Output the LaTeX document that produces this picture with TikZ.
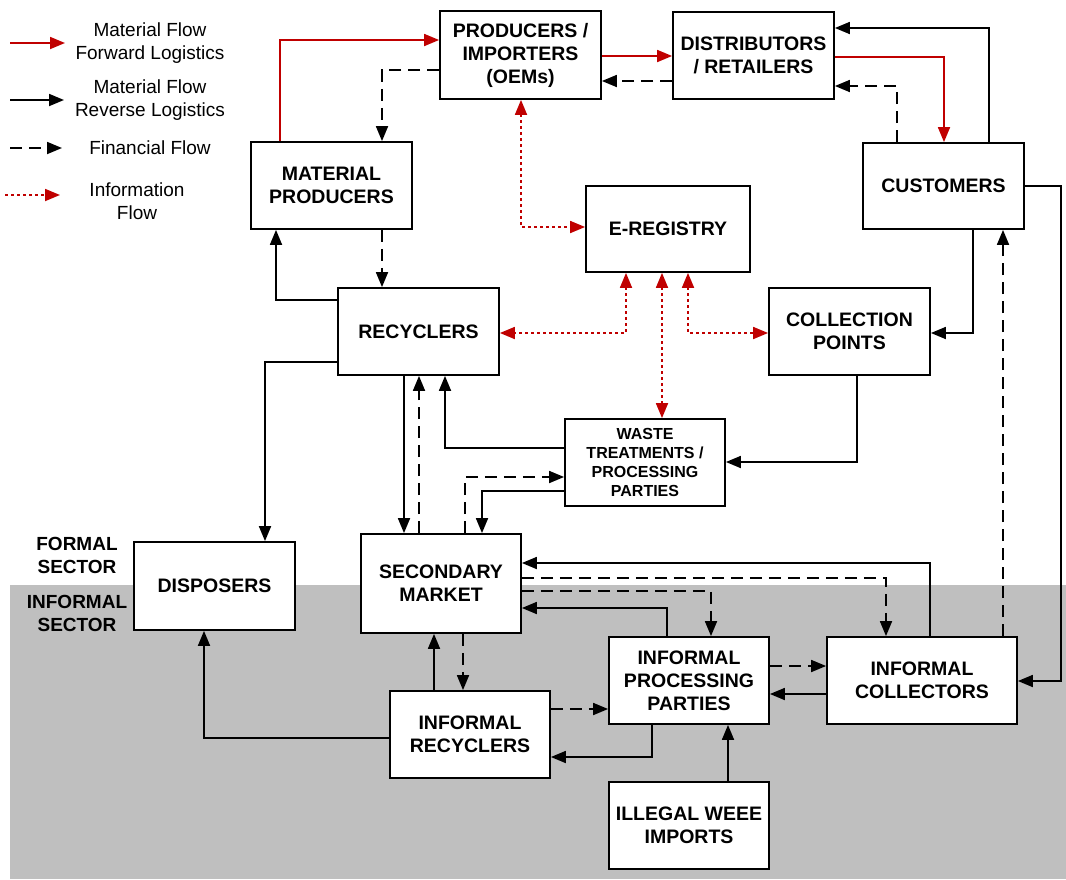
\documentclass[tikz,border=0pt]{standalone}
\usepackage{fontspec}
\setmainfont{Liberation Sans}
\usetikzlibrary{arrows.meta}
\definecolor{fred}{RGB}{192,0,0}
\definecolor{bggray}{RGB}{191,191,191}
\begin{document}
\begin{tikzpicture}[x=1pt,y=-1pt,
  tip/.tip={Triangle[length=15pt,width=12pt]},
  box/.style={draw, line width=1.8pt, fill=white, align=center, inner sep=0pt,
    minimum width=161pt, minimum height=87pt,
    font=\bfseries\fontsize{19.5}{23}\selectfont},
  conn/.style={line width=1.8pt},
  fwd/.style={conn, draw=fred, -tip},
  rev/.style={conn, draw=black, -tip},
  fin/.style={conn, draw=black, dash pattern=on 12pt off 7pt, -tip},
  info/.style={conn, draw=fred, dash pattern=on 3pt off 3pt, tip-tip},
  legtext/.style={align=center, font=\fontsize{19}{23}\selectfont},
  sector/.style={align=center, font=\bfseries\fontsize{19}{23}\selectfont}
]
\useasboundingbox (0,0) rectangle (1066,879);

% informal sector band
\fill[bggray] (10,585) rectangle (1066,879);

% actors
\node[box, minimum height=88pt] (prod) at (520.5,55) {PRODUCERS /\\IMPORTERS\\(OEMs)};
\node[box] (dist) at (753.5,55.5) {DISTRIBUTORS\\/ RETAILERS};
\node[box, minimum height=86pt] (cust) at (943.5,186) {CUSTOMERS};
\node[box] (mp) at (331.5,185.5) {MATERIAL\\PRODUCERS};
\node[box, minimum width=164pt, minimum height=86pt] (ereg) at (668,229) {E-REGISTRY};
\node[box] (rec) at (418.5,331.5) {RECYCLERS};
\node[box] (cp) at (849.5,331.5) {COLLECTION\\POINTS};
\node[box, minimum width=160pt, font=\bfseries\fontsize{16}{19}\selectfont] (waste) at (645,462.5)
  {WASTE\\TREATMENTS /\\PROCESSING\\PARTIES};
\node[box, minimum height=88pt] (disp) at (214.5,586) {DISPOSERS};
\node[box, minimum width=160pt, minimum height=99pt] (sm) at (441,583.5) {SECONDARY\\MARKET};
\node[box, minimum width=160pt] (ipp) at (689,680.5) {INFORMAL\\PROCESSING\\PARTIES};
\node[box, minimum width=190pt] (ic) at (922,680.5) {INFORMAL\\COLLECTORS};
\node[box, minimum width=160pt] (ir) at (470,734.5) {INFORMAL\\RECYCLERS};
\node[box, minimum width=160pt] (ill) at (689,825.5) {ILLEGAL WEEE\\IMPORTS};

% sector labels
\node[sector] (formal) at (77,555.5) {FORMAL\\SECTOR};
\node[sector] (informal) at (77,613.5) {INFORMAL\\SECTOR};

% forward material flow
\draw[fwd] (280,0 |- mp.north) |- (prod.west |- 0,40);
\draw[fwd] (prod.east |- 0,56) -- (dist.west |- 0,56);
\draw[fwd] (dist.east |- 0,57) -| (944,0 |- cust.north);

% upper loop
\draw[fin] (897,0 |- cust.north) |- (dist.east |- 0,86);
\draw[rev] (989,0 |- cust.north) |- (dist.east |- 0,28);
\draw[fin] (dist.west |- 0,81) -- (prod.east |- 0,81);
\draw[fin] (prod.west |- 0,70) -| (382,0 |- mp.north);
\draw[fin] (382,0 |- mp.south) -- (382,0 |- rec.north);
\draw[rev] (rec.west |- 0,300) -| (276,0 |- mp.south);

% information flow around the e-registry
\draw[info] (521,0 |- prod.south) |- (ereg.west |- 0,227);
\draw[info] (626,0 |- ereg.south) |- (rec.east |- 0,333);
\draw[info] (662,0 |- ereg.south) -- (662,0 |- waste.north);
\draw[info] (688,0 |- ereg.south) |- (cp.west |- 0,333);

% collection and treatment
\draw[rev] (973,0 |- cust.south) |- (cp.east |- 0,333);
\draw[fin] (1003,0 |- ic.north) -- (1003,0 |- cust.south);
\draw[rev] (cust.east |- 0,186) -| (1061,681) -- (ic.east |- 0,681);
\draw[rev] (857,0 |- cp.south) |- (waste.east |- 0,462);
\draw[rev] (waste.west |- 0,448) -| (445,0 |- rec.south);
\draw[rev] (404,0 |- rec.south) -- (404,0 |- sm.north);
\draw[fin] (419,0 |- sm.north) -- (419,0 |- rec.south);
\draw[fin] (465,0 |- sm.north) |- (waste.west |- 0,477);
\draw[rev] (waste.west |- 0,491) -| (482,0 |- sm.north);
\draw[rev] (rec.west |- 0,362) -| (265,0 |- disp.north);

% informal sector flows
\draw[rev] (930,0 |- ic.north) |- (sm.east |- 0,563);
\draw[fin] (sm.east |- 0,578) -| (886,0 |- ic.north);
\draw[fin] (sm.east |- 0,591) -| (711,0 |- ipp.north);
\draw[rev] (667,0 |- ipp.north) |- (sm.east |- 0,608);
\draw[fin] (ipp.east |- 0,666) -- (ic.west |- 0,666);
\draw[rev] (ic.west |- 0,694) -- (ipp.east |- 0,694);
\draw[fin] (ir.east |- 0,709) -- (ipp.west |- 0,709);
\draw[rev] (652,0 |- ipp.south) |- (ir.east |- 0,757);
\draw[rev] (728,0 |- ill.north) -- (728,0 |- ipp.south);
\draw[rev] (434,0 |- ir.north) -- (434,0 |- sm.south);
\draw[fin] (463,0 |- sm.south) -- (463,0 |- ir.north);
\draw[rev] (ir.west |- 0,738) -| (204,0 |- disp.south);

% legend
\coordinate (l1a) at (10,43);  \coordinate (l1b) at (65,43);
\coordinate (l2a) at (10,100); \coordinate (l2b) at (64,100);
\coordinate (l3a) at (10,148); \coordinate (l3b) at (62,148);
\coordinate (l4a) at (5,195);  \coordinate (l4b) at (60,195);
\draw[fwd] (l1a) -- (l1b);
\draw[rev] (l2a) -- (l2b);
\draw[fin] (l3a) -- (l3b);
\draw[conn, draw=fred, dash pattern=on 3pt off 3pt, -tip] (l4a) -- (l4b);
\node[legtext] (t1) at (150,43.5) {Material Flow\\Forward Logistics};
\node[legtext] (t2) at (150,100) {Material Flow\\Reverse Logistics};
\node[legtext] (t3) at (150,148) {Financial Flow};
\node[legtext] (t4) at (137,201) {Information\\Flow};
\end{tikzpicture}
\end{document}
